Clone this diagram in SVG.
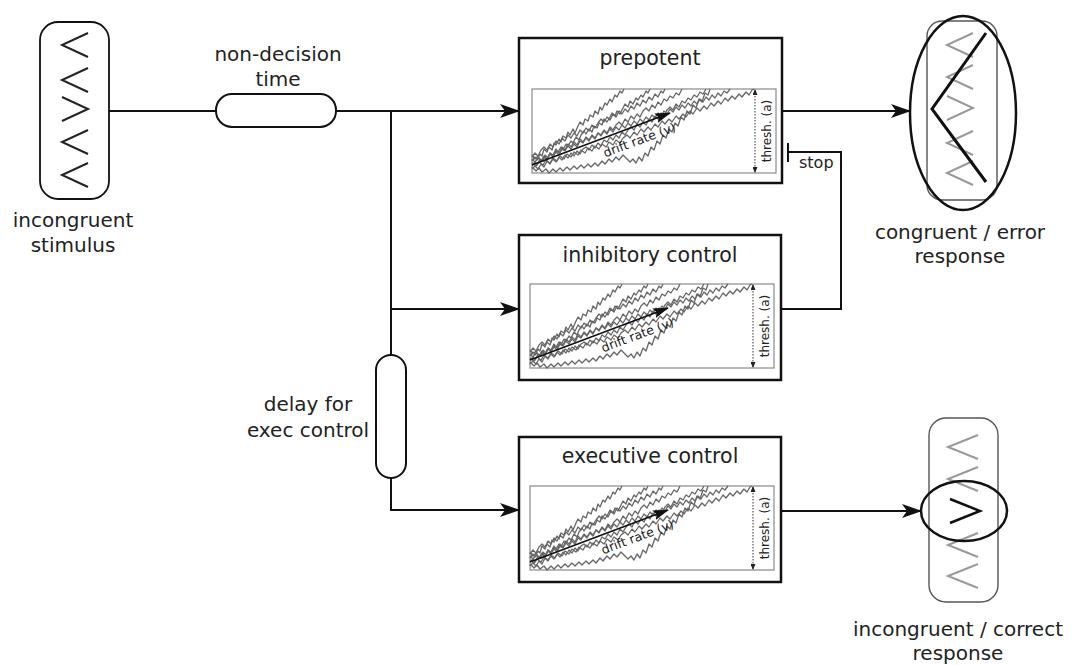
<svg xmlns="http://www.w3.org/2000/svg" xmlns:xlink="http://www.w3.org/1999/xlink" width="1072" height="665" viewBox="0 0 1072 665">
<style>
text{font-family:"DejaVu Sans","Verdana",sans-serif;fill:#222}
.lbl{font-size:20px;text-anchor:middle}
.ttl{font-size:20.5px;text-anchor:middle}
.box{fill:#fff;stroke:#111;stroke-width:2.5}
.con{fill:none;stroke:#111;stroke-width:2}
.cap{fill:#fff;stroke:#111;stroke-width:2}
.chev{fill:none;stroke:#222;stroke-width:2}
.gchev{fill:none;stroke:#999;stroke-width:2}
.trace{fill:none;stroke:#666;stroke-width:1.3;stroke-linejoin:round}
</style>
<defs>
<marker id="ah" markerUnits="userSpaceOnUse" markerWidth="20" markerHeight="14" refX="19" refY="7" orient="auto"><path d="M0,0 L20,7 L0,14 L5,7 z" fill="#111"/></marker>
<marker id="dh" markerUnits="userSpaceOnUse" markerWidth="16" markerHeight="10" refX="15" refY="5" orient="auto"><path d="M0,0 L16,5 L0,10 L3,5 z" fill="#111"/></marker>
<marker id="th" markerUnits="userSpaceOnUse" markerWidth="6" markerHeight="5" refX="5" refY="2.5" orient="auto-start-reverse"><path d="M0,0 L6,2.5 L0,5 z" fill="#222"/></marker>
<g id="plot">
<rect x="0" y="0" width="244" height="84" fill="#fff" stroke="#8a8a8a" stroke-width="1.2"/>
<g class="trace">
<polyline points="0,72 3,68 5,71 8,65 10,67 12,60 15,63 17,58 20,61 22,54 24,56 27,50 29,53 31,47 34,49 36,43 38,46 41,40 43,44 46,37 48,33 51,36 53,30 56,32 58,26 61,28 63,22 66,25 68,18 70,21 73,14 75,16 78,10 80,13 83,6 85,8 88,2 90,4 92,0"/>
<polyline points="0,76 3,73 5,76 8,70 11,72 13,66 16,69 18,64 21,66 24,60 26,63 29,58 31,61 34,55 36,57 39,52 41,54 44,48 47,51 49,46 52,42 54,45 57,40 60,43 62,37 65,39 67,34 70,36 72,30 75,33 78,28 80,24 83,27 85,22 88,25 91,19 93,15 96,18 98,12 101,15 104,9 106,11 109,6 111,8 114,2 116,4 118,0"/>
<polyline points="0,66 3,70 6,67 9,72 12,68 15,71 18,65 21,68 24,63 27,66 30,60 33,62 36,57 39,60 42,55 45,58 48,52 51,54 54,49 57,52 60,47 63,50 66,44 69,46 72,41 75,44 78,38 81,41 84,36 87,33 90,36 93,30 96,33 99,27 102,30 105,25 108,28 111,22 114,19 117,22 120,16 123,19 126,13 129,16 132,10 135,12 138,7 141,9 144,4 147,6 150,0"/>
<polyline points="0,80 3,77 6,80 9,75 12,78 15,72 18,75 21,70 24,73 27,68 30,71 33,66 36,69 39,64 42,67 45,62 48,65 51,60 54,58 57,61 60,56 63,59 66,54 69,57 72,51 75,53 78,48 81,51 84,46 87,49 90,43 93,46 96,41 99,38 102,41 105,35 108,38 111,33 114,36 117,30 120,33 123,27 126,30 129,24 132,27 135,21 138,18 141,21 144,15 147,18 150,12 153,14 156,9 159,11 162,6 165,8 168,3 171,5 174,0"/>
<polyline points="0,78 4,82 7,79 10,83 14,80 17,84 21,80 24,83 28,79 31,82 35,78 38,81 42,77 45,80 49,76 52,79 56,75 59,78 63,74 66,77 70,72 73,75 77,70 80,73 84,68 87,71 91,66 94,69 98,73 101,70 104,74 107,68 110,72 113,64 116,67 119,58 122,61 125,52 128,55 131,46 134,49 137,40 140,43 143,34 146,37 149,28 152,31 155,22 158,25 161,16 164,19 167,10 170,13 173,4 176,6 178,0"/>
<polyline points="0,74 4,77 7,73 11,76 14,71 18,74 21,69 25,72 28,67 32,70 35,65 39,68 42,63 46,66 49,61 53,64 56,59 60,62 63,57 67,60 70,55 74,58 77,53 81,56 84,51 88,54 91,49 95,46 98,49 102,43 105,46 109,40 112,43 116,38 119,41 123,35 126,38 130,32 133,35 137,30 140,33 144,27 147,30 151,25 154,28 158,22 161,25 165,19 168,22 172,17 175,20 179,14 182,17 186,12 189,15 193,9 196,12 200,7 203,10 207,5 210,8 214,3 217,6 220,1 222,0"/>
<polyline points="0,68 3,64 6,67 9,61 12,58 15,61 18,55 21,58 24,52 27,55 30,49 33,52 36,46 39,49 42,44 45,47 48,41 51,44 54,39 57,42 60,36 63,39 66,34 69,30 72,33 75,28 78,31 81,25 84,28 87,22 90,25 93,20 96,23 99,17 102,20 105,14 108,17 111,11 114,14 117,8 120,11 123,5 126,8 129,2 131,4 133,0"/>
<polyline points="0,70 3,73 6,69 9,72 12,67 15,70 18,64 21,67 24,61 27,64 30,58 33,61 36,55 39,58 42,53 45,56 48,50 51,53 54,48 57,51 60,46 63,49 66,44 69,47 72,42 75,45 78,40 81,43 84,38 87,41 90,36 93,39 96,34 99,37 102,32 105,35 108,30 111,33 114,28 117,31 120,26 123,29 126,24 129,27 132,22 135,25 138,20 141,23 144,18 147,21 150,16 153,19 156,14 159,17 162,12 165,15 168,10 171,13 174,8 177,11 180,6 183,9 186,4 189,7 192,2 195,4 198,0"/>
</g>
<line x1="0" y1="76" x2="138" y2="24" stroke="#111" stroke-width="1.5" marker-end="url(#dh)"/>
<text transform="translate(109,55) rotate(-20.6)" font-size="12.5" text-anchor="middle">drift rate (v)</text>
<line x1="223" y1="1" x2="223" y2="83" stroke="#333" stroke-width="1" stroke-dasharray="1.5 1.5" marker-start="url(#th)" marker-end="url(#th)"/>
<text transform="translate(239,42) rotate(-90)" font-size="12" text-anchor="middle">thresh. (a)</text>
</g>
</defs>
<rect width="1072" height="665" fill="#fff"/>

<g id="connectors">
<line class="con" x1="109" y1="111" x2="216" y2="111"/>
<line class="con" x1="336" y1="111" x2="519" y2="111" marker-end="url(#ah)"/>
<line class="con" x1="391" y1="111" x2="391" y2="355"/>
<line class="con" x1="391" y1="309" x2="519" y2="309" marker-end="url(#ah)"/>
<polyline class="con" points="391,478 391,510 519,510" marker-end="url(#ah)"/>
<line class="con" x1="782" y1="111" x2="910" y2="111" marker-end="url(#ah)"/>
<polyline class="con" points="781,309 841,309 841,152 788,152"/>
<line class="con" x1="788" y1="143" x2="788" y2="162"/>
<text x="799" y="168" font-size="16">stop</text>
<line class="con" x1="781" y1="511" x2="921" y2="511" marker-end="url(#ah)"/>
</g>

<g id="stimulus">
<rect x="40" y="22" width="69" height="177" rx="18" fill="#fff" stroke="#111" stroke-width="1.8"/>
<polyline class="chev" points="88,33 62,45 88,57"/>
<polyline class="chev" points="88,68 62,80 88,92"/>
<polyline class="chev" points="62,97 88,109 62,121"/>
<polyline class="chev" points="88,130 62,142 88,154"/>
<polyline class="chev" points="88,163 62,175 88,187"/>
<text class="lbl" x="73" y="227">incongruent</text>
<text class="lbl" x="73" y="252">stimulus</text>
</g>

<g id="nondecision">
<rect class="cap" x="216" y="94" width="120" height="33" rx="16"/>
<text class="lbl" x="278" y="61">non-decision</text>
<text class="lbl" x="278" y="86">time</text>
</g>

<g id="delay">
<rect class="cap" x="376" y="355" width="30" height="123" rx="15"/>
<text class="lbl" x="308" y="411">delay for</text>
<text class="lbl" x="308" y="437">exec control</text>
</g>

<g id="prepotent">
<rect class="box" x="519" y="38" width="263" height="145"/>
<text class="ttl" x="650" y="65">prepotent</text>
<use xlink:href="#plot" x="532" y="89"/>
</g>

<g id="inhibitory">
<rect class="box" x="519" y="235" width="262" height="145"/>
<text class="ttl" x="650" y="262">inhibitory control</text>
<use xlink:href="#plot" x="530" y="284"/>
</g>

<g id="executive">
<rect class="box" x="519" y="437" width="262" height="145"/>
<text class="ttl" x="650" y="463">executive control</text>
<use xlink:href="#plot" x="530" y="486"/>
</g>

<g id="congruent-response">
<rect x="927" y="21" width="70" height="179" rx="15" fill="#fff" stroke="#555" stroke-width="1.4"/>
<polyline class="gchev" points="973,33 947,45 973,57"/>
<polyline class="gchev" points="973,65 947,77 973,89"/>
<polyline class="gchev" points="947,96 973,108 947,120"/>
<polyline class="gchev" points="973,131 947,143 973,155"/>
<polyline class="gchev" points="973,161 947,173 973,185"/>
<polyline points="986,33 932,109 986,182" fill="none" stroke="#111" stroke-width="3"/>
<ellipse cx="963" cy="113" rx="53" ry="97" fill="none" stroke="#111" stroke-width="2.5"/>
<text class="lbl" x="960" y="239">congruent / error</text>
<text class="lbl" x="960" y="263">response</text>
</g>

<g id="incongruent-response">
<rect x="929" y="418" width="69" height="184" rx="17" fill="#fff" stroke="#555" stroke-width="1.4"/>
<polyline class="gchev" points="978,435 948,447 978,459"/>
<polyline class="gchev" points="978,467 948,479 978,491"/>
<polyline class="gchev" points="978,533 948,545 978,557"/>
<polyline class="gchev" points="978,564 948,576 978,588"/>
<polyline points="950,499 980,511 950,523" fill="none" stroke="#111" stroke-width="2.5"/>
<ellipse cx="964" cy="511" rx="43" ry="30" fill="none" stroke="#111" stroke-width="2.5"/>
<text class="lbl" x="958" y="636">incongruent / correct</text>
<text class="lbl" x="958" y="660">response</text>
</g>
</svg>
